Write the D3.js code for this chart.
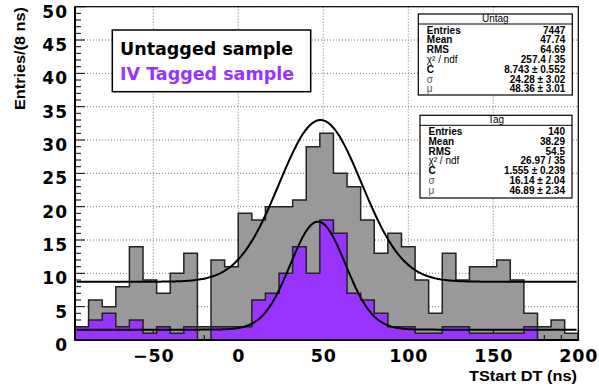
<!DOCTYPE html>
<html><head><meta charset="utf-8">
<script src="https://cdn.jsdelivr.net/npm/d3@7"></script>
<style>html,body{margin:0;padding:0;background:#fff;}svg{display:block;}</style>
</head><body>
<svg id="c" width="599" height="390"></svg>
<script>
// ---- data ----
const binLow = -96;
const binWidth = 8;
const untagged = [2,6,5,8,14,9,7,10,13,2,12,11,19,18,20,20,21,29,31,25,23,18,13,16,14,9,4,13,9,11,11,12,9,4,2,3,1];
const tagged   = [2,3,4,2,3,1,2,1,2,0,2,2,2,6,7,10,14,10,18,16,7,6,4,2,2,1,1,2,2,1,1,1,1,2,0,0,0];
// fit: C + A*exp(-0.5((x-mu)/sigma)^2)
const fitUntag = {C: 8.743, A: 24.26, sigma: 24.28, mu: 48.36};
const fitTag   = {C: 1.555, A: 16.2,  sigma: 16.14, mu: 46.89};
const fitRange = [-95, 199];
const xTickLabels = [-50, 0, 50, 100, 150, 200];
const yTickLabels = [0, 5, 10, 15, 20, 25, 30, 35, 40, 45, 50];
const statsUntag = {title: "Untag", rows: [["Entries","7447"],["Mean","47.74"],["RMS","64.69"],["χ² / ndf","257.4 / 35"],["C","8.743 ± 0.552"],["σ","24.28 ± 3.02"],["μ","48.36 ± 3.01"]]};
const statsTag = {title: "Tag", rows: [["Entries","140"],["Mean","38.29"],["RMS","54.5"],["χ² / ndf","26.97 / 35"],["C","1.555 ± 0.239"],["σ","16.14 ± 2.04"],["μ","46.89 ± 2.34"]]};
const legendItems = [["Untagged sample","#000"],["IV Tagged sample","#9933ff"]];

// ---- layout ----
const L = 75, R = 578.3, T = 6.7, B = 340;
const x = d3.scaleLinear().domain([-96, 200]).range([L, R]);
const y = d3.scaleLinear().domain([0, 50]).range([B, T]);
const svg = d3.select("#c");
svg.append("rect").attr("width",599).attr("height",390).attr("fill","#fff");

// grid
const grid = svg.append("g").attr("stroke","#777").attr("stroke-width",1).attr("stroke-dasharray","1,2");
grid.selectAll("line.v").data(xTickLabels).join("line")
  .attr("x1",d=>x(d)).attr("x2",d=>x(d)).attr("y1",T).attr("y2",B);
grid.selectAll("line.h").data(yTickLabels.slice(1)).join("line")
  .attr("x1",L).attr("x2",R).attr("y1",d=>y(d)).attr("y2",d=>y(d));

function histPath(vals){
  const p = d3.path();
  p.moveTo(x(binLow), y(0));
  vals.forEach((v,i)=>{
    const x0 = binLow + i*binWidth, x1 = x0 + binWidth;
    p.lineTo(x(x0), y(v)); p.lineTo(x(x1), y(v));
  });
  p.lineTo(x(binLow + vals.length*binWidth), y(0));
  p.closePath();
  return p.toString();
}
svg.append("path").attr("d",histPath(untagged)).attr("fill","#999999").attr("stroke","#222").attr("stroke-width",1.5);

// ticks (inside)
const tk = svg.append("g").attr("stroke","#000").attr("stroke-width",1);
const yMinor = d3.range(0, 51, 1);
tk.selectAll("line.ym").data(yMinor).join("line")
  .attr("x1",L).attr("x2",d=> L + (d%5===0?10:6)).attr("y1",d=>y(d)).attr("y2",d=>y(d));
const xMinor = d3.range(-90, 201, 10);
tk.selectAll("line.xm").data(xMinor).join("line")
  .attr("x1",d=>x(d)).attr("x2",d=>x(d)).attr("y1",B).attr("y2",d=> B - (d%50===0?10:5));

svg.append("path").attr("d",histPath(tagged)).attr("fill","#9933ff").attr("stroke","#222").attr("stroke-width",1.5);

// fit curves
function curve(f){
  const pts = d3.range(fitRange[0], fitRange[1]+0.01, 1).map(t=>[t, f.C + f.A*Math.exp(-0.5*Math.pow((t-f.mu)/f.sigma,2))]);
  return d3.line().x(d=>x(d[0])).y(d=>y(d[1])).curve(d3.curveMonotoneX)(pts);
}
svg.append("path").attr("d",curve(fitUntag)).attr("fill","none").attr("stroke","#000").attr("stroke-width",2);
svg.append("path").attr("d",curve(fitTag)).attr("fill","none").attr("stroke","#000").attr("stroke-width",2);

// frame
svg.append("rect").attr("x",L).attr("y",T).attr("width",R-L).attr("height",B-T).attr("fill","none").attr("stroke","#000").attr("stroke-width",1.2);
svg.append("line").attr("x1",L).attr("x2",L).attr("y1",T).attr("y2",B).attr("stroke","#000").attr("stroke-width",2);
svg.append("line").attr("x1",L).attr("x2",R).attr("y1",B).attr("y2",B).attr("stroke","#000").attr("stroke-width",2);

// axis labels via d3 axes
const fmt = d => d < 0 ? "−" + Math.abs(d) : String(d);
const ax = svg.append("g").attr("transform",`translate(0,${B})`)
  .call(d3.axisBottom(x).tickValues(xTickLabels).tickSize(0).tickPadding(10).tickFormat(fmt));
ax.select(".domain").remove();
ax.selectAll("text").attr("font-family","DejaVu Sans").attr("font-weight","bold").attr("font-size",17.5)
  .attr("letter-spacing","0.8px").attr("fill","#000");
const ay = svg.append("g").attr("transform",`translate(${L},0)`)
  .call(d3.axisLeft(y).tickValues(yTickLabels).tickSize(0).tickPadding(7).tickFormat(fmt));
ay.select(".domain").remove();
ay.selectAll("text").attr("font-family","DejaVu Sans").attr("font-weight","bold").attr("font-size",17)
  .attr("letter-spacing","1px").attr("fill","#000").attr("dy","0.62em");

// axis titles
svg.append("text").attr("x",577).attr("y",381).attr("text-anchor","end")
  .attr("font-family","Liberation Sans").attr("font-weight","bold").attr("font-size",15)
  .attr("textLength",108).attr("lengthAdjust","spacingAndGlyphs").text("TStart DT (ns)");
svg.append("text").attr("transform","translate(25,7) rotate(-90)").attr("text-anchor","end")
  .attr("font-family","Liberation Sans").attr("font-weight","bold").attr("font-size",15)
  .attr("textLength",103).attr("lengthAdjust","spacingAndGlyphs").text("Entries/(8 ns)");

// legend
const lg = svg.append("g");
lg.append("rect").attr("x",112.3).attr("y",30).attr("width",198.4).attr("height",61.7).attr("fill","#fff").attr("stroke","#000").attr("stroke-width",1.5);
legendItems.forEach((d,i)=>{
  lg.append("text").attr("x",120).attr("y",55+i*25).attr("font-family","DejaVu Sans").attr("font-weight","bold")
    .attr("font-size",17.5).attr("fill",d[1]).text(d[0]);
});

// stats boxes
function stats(s, bx, by, bw, bh, titleLine, firstBase, step){
  const g = svg.append("g").attr("font-family","Liberation Sans").attr("font-size",10);
  g.append("rect").attr("x",bx).attr("y",by).attr("width",bw).attr("height",bh).attr("fill","#fff").attr("stroke","#000").attr("stroke-width",1.2);
  g.append("line").attr("x1",bx).attr("x2",bx+bw).attr("y1",titleLine).attr("y2",titleLine).attr("stroke","#000").attr("stroke-width",1);
  g.append("text").attr("x",bx+bw/2).attr("y",titleLine-2.5).attr("text-anchor","middle").text(s.title);
  s.rows.forEach((r,i)=>{
    const yy = firstBase + i*step;
    const greek = (r[0]==="σ"||r[0]==="μ");
    g.append("text").attr("x",bx+8.5).attr("y",yy).attr("font-weight",(greek||r[0].startsWith("χ"))?"normal":"bold")
      .attr("fill",greek?"#555":"#000").text(r[0]);
    g.append("text").attr("x",bx+bw-7).attr("y",yy).attr("text-anchor","end").attr("font-weight","bold").text(r[1]);
  });
}
stats(statsUntag, 418.3, 14, 154, 81, 24, 33.5, 9.8);
stats(statsTag, 420, 115.3, 152, 82.7, 125.3, 134.8, 9.85);
</script>
</body></html>
